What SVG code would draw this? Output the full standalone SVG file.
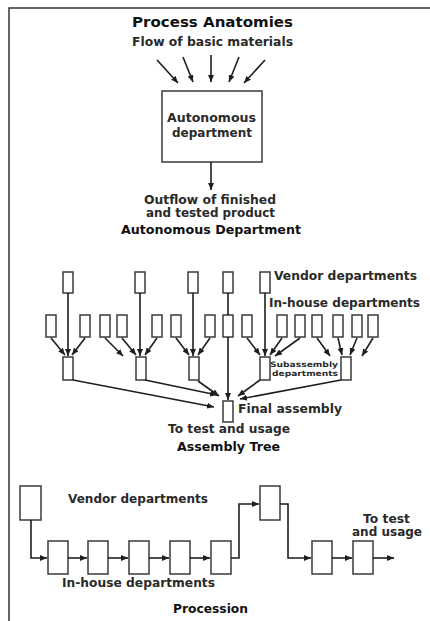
<svg xmlns="http://www.w3.org/2000/svg" width="430" height="621" viewBox="0 0 430 621">
<style>
text{font-family:"DejaVu Sans","Liberation Sans",sans-serif;font-weight:bold;fill:#1a1a1a;}
.t{font-size:13.5px;fill:#111;}
.h{font-size:12px;fill:#111;}
.m{font-size:11.5px;fill:#2a2a2a;}
.s{font-size:7.5px;fill:#2a2a2a;}
.b{fill:#fff;stroke:#3a3a3a;stroke-width:1.5;}
.c{fill:none;stroke:#1e1e1e;stroke-width:1.6;}
.a{fill:none;stroke:#1e1e1e;stroke-width:1.6;marker-end:url(#ah);}
.f{fill:none;stroke:#333;stroke-width:1.5;}
</style>
<defs>
<marker id="ah" markerUnits="userSpaceOnUse" markerWidth="8" markerHeight="6" refX="7" refY="3" orient="auto">
<path d="M0,0 L7,3 L0,6 z" fill="#1e1e1e"/>
</marker>
</defs>
<rect width="430" height="621" fill="#fff"/>
<path class="f" d="M430,8 H9 V621"/>

<g id="headings">
<text class="t" x="132" y="27" textLength="161" lengthAdjust="spacingAndGlyphs">Process Anatomies</text>
<text class="m" x="132" y="46" textLength="161" lengthAdjust="spacingAndGlyphs">Flow of basic materials</text>
<text class="m" x="144" y="204" textLength="132" lengthAdjust="spacingAndGlyphs">Outflow of finished</text>
<text class="m" x="146" y="217" textLength="129" lengthAdjust="spacingAndGlyphs">and tested product</text>
<text class="h" x="121" y="234" textLength="180" lengthAdjust="spacingAndGlyphs">Autonomous Department</text>
<text class="m" x="274" y="280" textLength="143" lengthAdjust="spacingAndGlyphs">Vendor departments</text>
<text class="m" x="269" y="307" textLength="151" lengthAdjust="spacingAndGlyphs">In-house departments</text>
<text class="s" x="270" y="367" textLength="68" lengthAdjust="spacingAndGlyphs">Subassembly</text>
<text class="s" x="272" y="376" textLength="66" lengthAdjust="spacingAndGlyphs">departments</text>
<text class="m" x="238" y="413" textLength="104" lengthAdjust="spacingAndGlyphs">Final assembly</text>
<text class="m" x="168" y="433" textLength="122" lengthAdjust="spacingAndGlyphs">To test and usage</text>
<text class="h" x="177" y="451" textLength="103" lengthAdjust="spacingAndGlyphs">Assembly Tree</text>
<text class="m" x="68" y="503" textLength="140" lengthAdjust="spacingAndGlyphs">Vendor departments</text>
<text class="m" x="363" y="523" textLength="47" lengthAdjust="spacingAndGlyphs">To test</text>
<text class="m" x="352" y="536" textLength="70" lengthAdjust="spacingAndGlyphs">and usage</text>
<text class="m" x="62" y="587" textLength="153" lengthAdjust="spacingAndGlyphs">In-house departments</text>
<text class="h" x="173" y="613" textLength="75" lengthAdjust="spacingAndGlyphs">Procession</text>
</g>

<g id="autonomous-department">
<rect class="b" x="162" y="91" width="100" height="71"/>
<text class="m" x="167" y="122" textLength="89" lengthAdjust="spacingAndGlyphs">Autonomous</text>
<text class="m" x="172" y="137" textLength="80" lengthAdjust="spacingAndGlyphs">department</text>
</g>

<g id="tree-vendors">
<rect class="b" x="63" y="272" width="10" height="21"/>
<rect class="b" x="135" y="272" width="10" height="21"/>
<rect class="b" x="188" y="272" width="10" height="21"/>
<rect class="b" x="223" y="272" width="10" height="21"/>
<rect class="b" x="260" y="272" width="10" height="21"/>
</g>
<g id="tree-inhouse">
<rect class="b" x="46" y="315" width="10" height="22"/>
<rect class="b" x="80" y="315" width="10" height="22"/>
<rect class="b" x="100" y="315" width="10" height="22"/>
<rect class="b" x="117" y="315" width="10" height="22"/>
<rect class="b" x="152" y="315" width="10" height="22"/>
<rect class="b" x="171" y="315" width="10" height="22"/>
<rect class="b" x="205" y="315" width="10" height="22"/>
<rect class="b" x="223" y="315" width="10" height="22"/>
<rect class="b" x="242" y="315" width="10" height="22"/>
<rect class="b" x="277" y="315" width="10" height="22"/>
<rect class="b" x="295" y="315" width="10" height="22"/>
<rect class="b" x="312" y="315" width="10" height="22"/>
<rect class="b" x="333" y="315" width="10" height="22"/>
<rect class="b" x="352" y="315" width="10" height="22"/>
<rect class="b" x="368" y="315" width="10" height="22"/>
</g>
<g id="tree-subassembly">
<rect class="b" x="63" y="357" width="10" height="23"/>
<rect class="b" x="136" y="357" width="10" height="23"/>
<rect class="b" x="189" y="357" width="10" height="23"/>
<rect class="b" x="260" y="357" width="10" height="23"/>
<rect class="b" x="341" y="357" width="10" height="23"/>
</g>
<g id="tree-final">
<rect class="b" x="223" y="401" width="10" height="21"/>
</g>

<g id="procession-boxes">
<rect class="b" x="20" y="486" width="21" height="34"/>
<rect class="b" x="48" y="541" width="20" height="33"/>
<rect class="b" x="88" y="541" width="20" height="33"/>
<rect class="b" x="129" y="541" width="20" height="33"/>
<rect class="b" x="170" y="541" width="20" height="33"/>
<rect class="b" x="211" y="541" width="20" height="33"/>
<rect class="b" x="260" y="486" width="20" height="34"/>
<rect class="b" x="312" y="541" width="20" height="33"/>
<rect class="b" x="353" y="541" width="20" height="33"/>
</g>

<g id="connectors">
<line class="a" x1="157" y1="60" x2="178" y2="83"/>
<line class="a" x1="183" y1="57" x2="193" y2="82"/>
<line class="a" x1="211" y1="55" x2="211" y2="82"/>
<line class="a" x1="239" y1="57" x2="229" y2="82"/>
<line class="a" x1="265" y1="60" x2="244" y2="83"/>
<line class="a" x1="211" y1="162" x2="211" y2="190"/>
<line class="a" x1="68" y1="293" x2="68" y2="356"/>
<line class="a" x1="140" y1="293" x2="140" y2="356"/>
<line class="a" x1="193" y1="293" x2="193" y2="356"/>
<line class="a" x1="265" y1="293" x2="265" y2="356"/>
<line class="c" x1="228" y1="293" x2="228" y2="315"/>
<line class="a" x1="228" y1="337" x2="228" y2="400"/>
<line class="a" x1="51" y1="338" x2="65" y2="355"/>
<line class="a" x1="85" y1="338" x2="72" y2="355"/>
<line class="a" x1="105" y1="338" x2="123" y2="356"/>
<line class="a" x1="122" y1="338" x2="136" y2="355"/>
<line class="a" x1="157" y1="338" x2="145" y2="355"/>
<line class="a" x1="176" y1="338" x2="189" y2="355"/>
<line class="a" x1="210" y1="338" x2="198" y2="355"/>
<line class="a" x1="247" y1="338" x2="260" y2="355"/>
<line class="a" x1="282" y1="338" x2="270" y2="355"/>
<line class="a" x1="300" y1="338" x2="275" y2="356"/>
<line class="a" x1="317" y1="338" x2="330" y2="356"/>
<line class="a" x1="338" y1="338" x2="342" y2="355"/>
<line class="a" x1="357" y1="338" x2="350" y2="355"/>
<line class="a" x1="373" y1="338" x2="362" y2="356"/>
<line class="a" x1="73" y1="380" x2="214" y2="407"/>
<line class="a" x1="145" y1="380" x2="217" y2="395"/>
<line class="a" x1="198" y1="381" x2="219" y2="396"/>
<line class="a" x1="260" y1="380" x2="238" y2="396"/>
<line class="a" x1="341" y1="380" x2="240" y2="399"/>
<path class="a" d="M31,520 V558 H47"/>
<line class="a" x1="68" y1="558" x2="87" y2="558"/>
<line class="a" x1="108" y1="558" x2="128" y2="558"/>
<line class="a" x1="149" y1="558" x2="169" y2="558"/>
<line class="a" x1="190" y1="558" x2="210" y2="558"/>
<path class="a" d="M231,558 H239 V504 H259"/>
<path class="a" d="M280,504 H288 V558 H311"/>
<line class="a" x1="332" y1="558" x2="352" y2="558"/>
<line class="a" x1="373" y1="558" x2="394" y2="558"/>
</g>
</svg>
